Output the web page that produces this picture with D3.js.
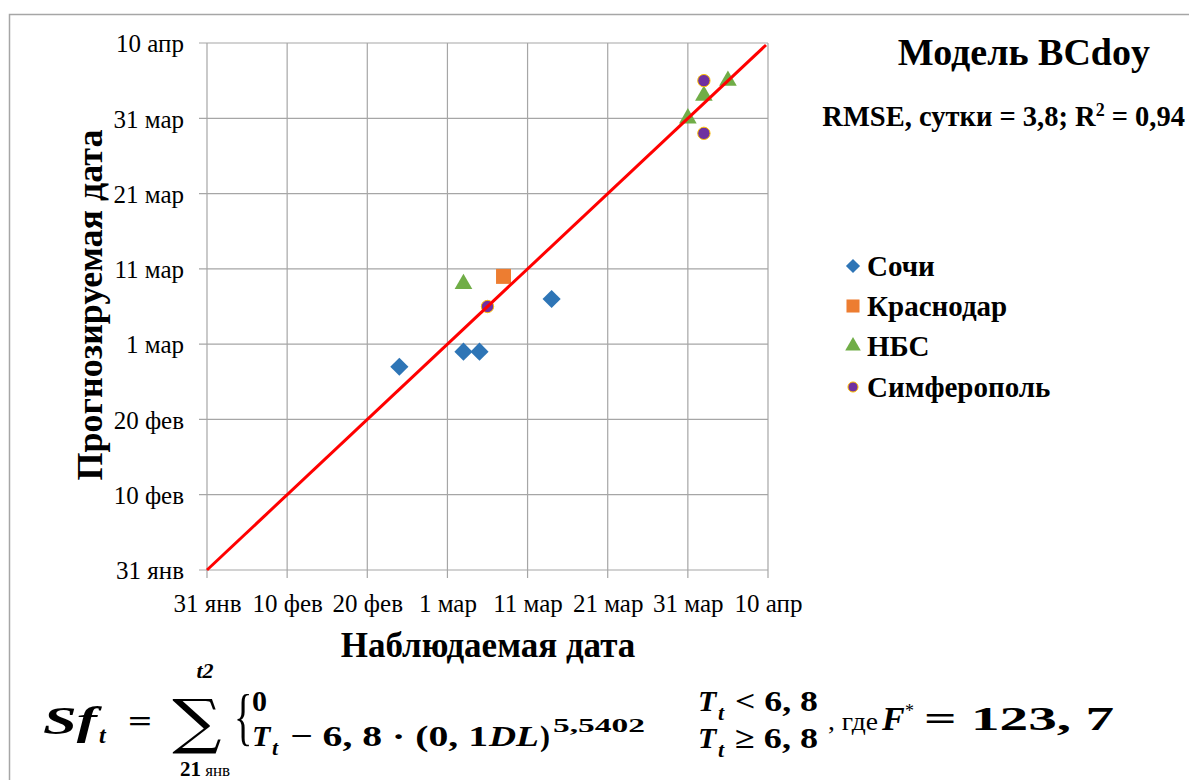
<!DOCTYPE html>
<html><head><meta charset="utf-8">
<script src="https://cdn.jsdelivr.net/npm/d3@7"></script>
<style>body{margin:0;background:#fff}svg{display:block}</style>
</head><body>
<svg id="c" width="1189" height="780"></svg>
<script>
// Day-of-year (leap year) values
const tickValues = [31, 41, 51, 61, 71, 81, 91, 101];
const tickLabels = ["31 янв","10 фев","20 фев","1 мар","11 мар","21 мар","31 мар","10 апр"];
const seriesNames = ["Сочи","Краснодар","НБС","Симферополь"];
const sochiObs = [55, 63, 65, 74];
const sochiPred = [58, 60, 60, 67];
const krasObs = [68];
const krasPred = [70];
const nbsObs = [63, 91, 93, 96];
const nbsPred = [69, 91, 94, 96];
const simfObs = [66, 93, 93];
const simfPred = [66, 96, 89];
const lineExtent = [31, 101];

const svg = d3.select("#c");
const serif = '"Liberation Serif", "Tinos", "Times New Roman", "DejaVu Serif", serif';
const x = d3.scaleLinear().domain([31,101]).range([207,768]);
const y = d3.scaleLinear().domain([31,101]).range([570,43]);

// slide border
svg.append("path").attr("d","M9.5,780 V14.5 H1189").attr("fill","none").attr("stroke","#a6a6a6").attr("stroke-width",1.5);

// grid
const grid = svg.append("g").attr("stroke","#a6a6a6").attr("stroke-width",1.2);
tickValues.forEach(v=>{
  grid.append("line").attr("x1",x(v)).attr("x2",x(v)).attr("y1",43).attr("y2",578);
  grid.append("line").attr("x1",199).attr("x2",768).attr("y1",y(v)).attr("y2",y(v));
});

// axes labels via d3 axes
const xAxis = d3.axisBottom(x).tickValues(tickValues).tickFormat((d,i)=>tickLabels[i]).tickSize(0).tickPadding(0);
const gx = svg.append("g").attr("transform","translate(0,612)").call(xAxis);
gx.attr("font-family",null).style("font-family",serif);
gx.select(".domain").remove();
gx.selectAll("text").style("font-family",serif).style("font-size","25px").attr("fill","#000").attr("dy","0");
const yAxis = d3.axisLeft(y).tickValues(tickValues).tickFormat((d,i)=>tickLabels[i]).tickSize(0).tickPadding(0);
const gy = svg.append("g").attr("transform","translate(184,0)").call(yAxis);
gy.attr("font-family",null).style("font-family",serif);
gy.select(".domain").remove();
gy.selectAll("text").style("font-family",serif).style("font-size","25px").attr("fill","#000").attr("dy","0.35em");

function st(sel, fs, bold){ return sel.style("font-family",serif).style("font-size",fs+"px").style("font-weight",bold?"bold":"normal"); }

// titles
st(svg.append("text").attr("x",488).attr("y",657).attr("text-anchor","middle"),35,true).text("Наблюдаемая дата");
st(svg.append("text").attr("transform","translate(102,305) rotate(-90)").attr("text-anchor","middle"),36,true).text("Прогнозируемая дата");
st(svg.append("text").attr("x",1150).attr("y",65).attr("text-anchor","end"),38,true).text("Модель BCdoy");
const rm = st(svg.append("text").attr("x",1185).attr("y",126).attr("text-anchor","end"),28.5,true);
rm.append("tspan").text("RMSE, сутки = 3,8; R");
rm.append("tspan").style("font-size","18px").attr("dy",-10).text("2");
rm.append("tspan").attr("dy",10).text(" = 0,94");

// markers
const styles = [
  {fill:"#2E75B6", stroke:"none", sym:d3.symbolSquare, size:165, rot:45, lsize:100},
  {fill:"#ED7D31", stroke:"none", sym:d3.symbolSquare, size:225, rot:0, lsize:170},
  {fill:"#70AD47", stroke:"none", sym:d3.symbolTriangle, size:135, rot:0, lsize:105},
  {fill:"#7030A0", stroke:"#FFC000", sym:d3.symbolCircle, size:120, rot:0, lsize:80}
];
const series = [[sochiObs,sochiPred],[krasObs,krasPred],[nbsObs,nbsPred],[simfObs,simfPred]];
series.forEach((s,i)=>{
  const sty = styles[i];
  const g = svg.append("g");
  s[0].forEach((ov,j)=>{
    g.append("path").attr("d",d3.symbol().type(sty.sym).size(sty.size)())
      .attr("transform",`translate(${x(ov)},${y(s[1][j])}) rotate(${sty.rot})`)
      .attr("fill",sty.fill).attr("stroke",sty.stroke).attr("stroke-width",1);
  });
});

// 1:1 line
svg.append("line").attr("x1",x(lineExtent[0])).attr("y1",y(lineExtent[0])).attr("x2",x(lineExtent[1])-2).attr("y2",y(lineExtent[1])+2)
  .attr("stroke","#FF0000").attr("stroke-width",3);

// legend
const legY = [266, 306, 346, 387];
seriesNames.forEach((n,i)=>{
  const sty = styles[i];
  svg.append("path").attr("d",d3.symbol().type(sty.sym).size(sty.lsize)())
    .attr("transform",`translate(853,${legY[i]}) rotate(${sty.rot})`)
    .attr("fill",sty.fill).attr("stroke",sty.stroke).attr("stroke-width",1);
  st(svg.append("text").attr("x",867).attr("y",legY[i]).attr("dy","0.35em"),29,true).text(n);
});

// formula
const mf = serif;
function t(xp,yp,txt,opt={}){
  const e = svg.append("text").attr("x",xp).attr("y",yp)
    .style("font-family",opt.ff||mf).style("font-weight",opt.w||"bold")
    .style("font-style",opt.it?"italic":"normal").style("font-size",(opt.fs||28)+"px").text(txt);
  if(opt.anchor) e.attr("text-anchor",opt.anchor);
  if(opt.len) e.attr("textLength",opt.len).attr("lengthAdjust","spacingAndGlyphs");
  return e;
}
t(43,734,"Sf",{it:true,fs:40,len:54});
t(99,743,"t",{it:true,fs:24});
t(128,732,"=",{fs:32,len:24});
t(197,742,"∑",{fs:60,anchor:"middle",w:"normal",ff:'"DejaVu Serif","DejaVu Sans",serif'}).attr("transform","translate(197,742) scale(1.15,1) translate(-197,-742)");
t(205,678,"t2",{it:true,fs:22,anchor:"middle"});
const lo = svg.append("text").attr("x",205).attr("y",776).attr("text-anchor","middle").style("font-family",serif);
lo.append("tspan").style("font-weight","bold").style("font-size","21px").text("21");
lo.append("tspan").style("font-size","17px").text(" янв");
t(234,738,"{",{fs:64,w:"normal"}).attr("transform","translate(234,738) scale(0.6,1) translate(-234,-738)");
t(252,711,"0",{fs:30});
t(252,746,"T",{it:true,fs:30});
t(272,755,"t",{it:true,fs:22});
t(290,746,"− 6, 8 · (0, 1",{fs:30,len:198});
t(489,746,"DL",{it:true,fs:30,len:50});
t(540,746,")",{fs:30});
t(553,732,"5,5402",{fs:19,len:92});
t(698,711,"T",{it:true,fs:30});
t(718,720,"t",{it:true,fs:22});
t(735,711,"< 6, 8",{fs:30,len:83});
t(698,748,"T",{it:true,fs:30});
t(718,757,"t",{it:true,fs:22});
t(735,748,"≥ 6, 8",{fs:30,len:83});
t(828,730,", где",{w:"normal",fs:26,len:50});
t(882,730,"F",{it:true,fs:34});
t(905,717,"*",{fs:18,w:"normal"});
t(924,730,"= 123, 7",{fs:34,len:190});
</script>
</body></html>
